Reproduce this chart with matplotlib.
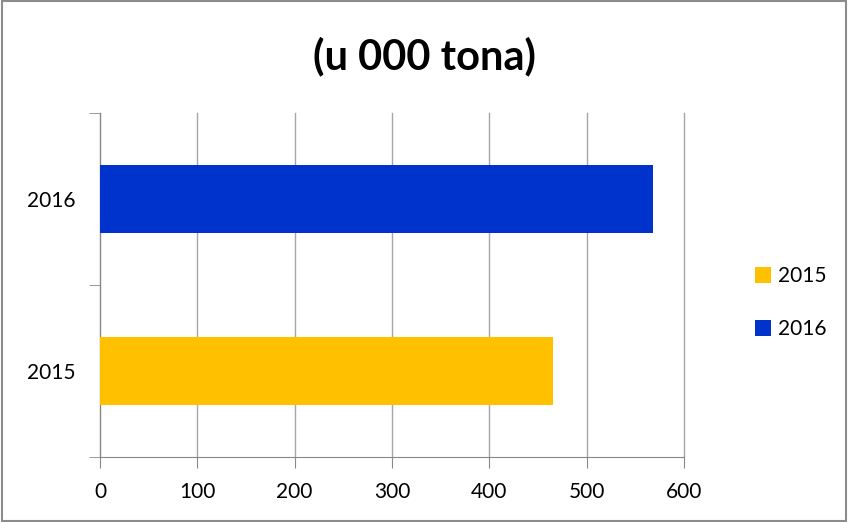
import numpy as np
import matplotlib.pyplot as plt

years = ['2015', '2016']
values = [465, 568]
colors = ['#FFC000', '#0033CC']
xticks = [0, 100, 200, 300, 400, 500, 600]

plt.rcParams['font.family'] = ['Lato', 'DejaVu Sans']

fig = plt.figure(figsize=(8.48, 5.22), dpi=100)
ax = fig.add_axes([100/848, 65/522, 584/848, 344/522])

y = np.arange(len(years))
for i in range(len(years)):
    ax.barh(y[i], values[i], height=0.4, color=colors[i], label=years[i], zorder=3)

ax.set_xlim(0, 600)
ax.set_ylim(-0.5, 1.5)
ax.set_xticks(xticks)
ax.set_xticklabels([str(t) for t in xticks], fontsize=15)
ax.set_yticks(y)
ax.set_yticklabels(years, fontsize=15)
ax.set_yticks([-0.5, 0.5, 1.5], minor=True)
ax.tick_params(axis='y', which='major', length=0, pad=18)
ax.tick_params(axis='y', which='minor', length=8, color='#888888')
ax.tick_params(axis='x', length=8, color='#888888', pad=10)
ax.grid(axis='x', color='#a6a6a6', linewidth=1, zorder=0)
for gl in ax.get_xgridlines():
    gl.set_clip_on(False)

for s in ['top', 'right']:
    ax.spines[s].set_visible(False)
ax.spines['left'].set_color('#888888')
ax.spines['bottom'].set_color('#888888')

fig.suptitle('(u 000 tona)', fontsize=30, fontweight='bold', y=0.93)

fig.legend(loc='center left', bbox_to_anchor=(0.868, 0.42), frameon=False,
           fontsize=15, handlelength=0.8, handleheight=0.8, handletextpad=0.3,
           labelspacing=1.6)

fig.patches.append(plt.Rectangle((0.002, 0.002), 0.996, 0.996, transform=fig.transFigure,
                                 fill=False, edgecolor='#8c8c8c', linewidth=1.5))

fig.savefig('out.png', dpi=100)
